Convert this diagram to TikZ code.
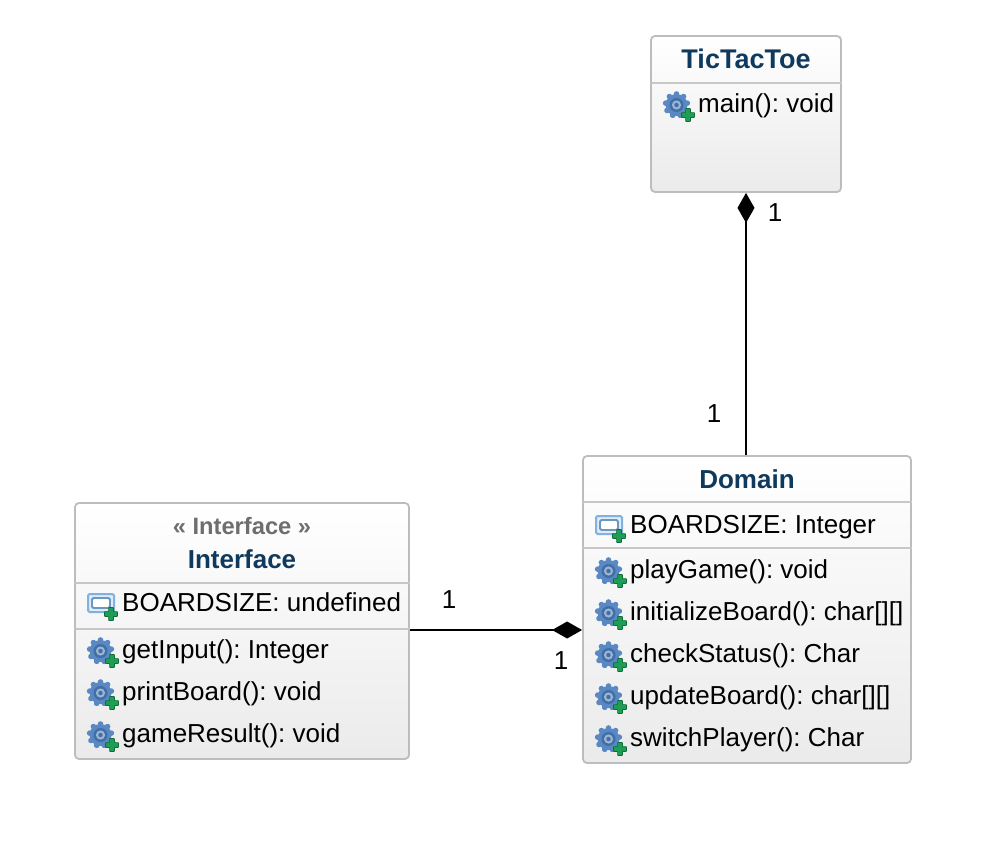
\documentclass[tikz,border=0pt]{standalone}
\usepackage{fontspec}
\setmainfont{Liberation Sans}
\frenchspacing
\usetikzlibrary{arrows.meta}
\definecolor{titleblue}{HTML}{0F3A5E}
\definecolor{edgegray}{HTML}{BDBDBD}
\definecolor{stereo}{HTML}{6E6E6E}
\definecolor{gearblue}{HTML}{5A88C2}
\definecolor{geardark}{HTML}{3F6FA8}
\definecolor{gearmid}{HTML}{9DB4CF}
\definecolor{plusgreen}{HTML}{1E9E55}
\definecolor{plusdark}{HTML}{0F6B38}
\definecolor{attrblue}{HTML}{7FB2E0}
\tikzset{
  x=1pt,y=-1pt,
  classbox/.style={draw=edgegray,line width=1.8pt,rounded corners=4pt,top color=white,bottom color=black!8,inner sep=0pt},
  divider/.style={draw=edgegray!85,line width=1.4pt},
  member/.style={anchor=base west,inner sep=0pt,font=\fontsize{26}{30}\selectfont,text=black},
  classtitle/.style={anchor=base,inner sep=0pt,font=\fontsize{26}{30}\selectfont\bfseries,text=titleblue},
  stereotype/.style={anchor=base,inner sep=0pt,font=\fontsize{23.7}{27}\selectfont\bfseries,text=stereo},
  mult/.style={anchor=base,inner sep=0pt,font=\fontsize{26}{30}\selectfont,text=black},
  assoc/.style={draw=black,line width=2.4pt},
  whole/.style={{Diamond[length=30pt,width=17pt,inset=15pt]}-},
  plusmark/.pic={
    \draw[plusdark,line width=0.7pt,fill=plusgreen,rounded corners=0.6pt]
      (-2.4,-6.5)--(2.4,-6.5)--(2.4,-2.4)--(6.5,-2.4)--(6.5,2.4)--(2.4,2.4)--(2.4,6.5)--(-2.4,6.5)--(-2.4,2.4)--(-6.5,2.4)--(-6.5,-2.4)--(-2.4,-2.4)--cycle;
  },
  opicon/.pic={
    \foreach \a in {0,40,...,320}{
      \fill[gearblue,rotate=\a] (0,-11) circle (2.8);
    }
    \fill[gearblue] (0,0) circle (11);
    \fill[geardark] (0,0) circle (7);
    \fill[gearmid] (0,0) circle (4.6);
    \fill[geardark] (0,0) circle (2.2);
    \path (11.5,10) pic {plusmark};
  },
  attricon/.pic={
    \draw[attrblue,line width=2pt,fill=attrblue!25,rounded corners=1.5pt] (-13,-9) rectangle (13,9);
    \draw[attrblue!85!black,line width=1.8pt,fill=white,rounded corners=1.5pt] (-9,-5) rectangle (9,5);
    \path (10,11) pic {plusmark};
  }
}
\begin{document}
\begin{tikzpicture}
\useasboundingbox (0,0) rectangle (990,846);

% class boxes
\node[classbox,minimum width=190pt,minimum height=156pt] (tic) at (746,114) {};
\node[classbox,minimum width=328pt,minimum height=307pt] (dom) at (747,609.5) {};
\node[classbox,minimum width=334pt,minimum height=256pt] (ifc) at (242,631) {};

% compartments
\coordinate (ticA) at (651,83);
\draw[divider] (ticA) -- (ticA -| tic.east);
\coordinate (domA) at (583,502);
\coordinate (domB) at (583,548);
\draw[divider] (domA) -- (domA -| dom.east);
\draw[divider] (domB) -- (domB -| dom.east);
\coordinate (ifcA) at (75,583);
\coordinate (ifcB) at (75,629);
\draw[divider] (ifcA) -- (ifcA -| ifc.east);
\draw[divider] (ifcB) -- (ifcB -| ifc.east);

% titles
\node[classtitle,font=\fontsize{27}{30}\selectfont\bfseries] (ticT) at (746,68) {TicTacToe};
\node[classtitle] (domT) at (747,488) {Domain};
\node[stereotype] (ifcS) at (242,534) {« Interface »};
\node[classtitle] (ifcT) at (242,568) {Interface};

% TicTacToe members
\path (676.5,105) pic {opicon};
\node[member] (t1) at (698,112) {main(): void};

% Domain members
\path (609,525) pic {attricon};
\node[member] (d0) at (630,533) {BOARDSIZE: Integer};
\path (608.5,571) pic {opicon};
\node[member] (d1) at (630,578) {playGame(): void};
\path (608.5,613) pic {opicon};
\node[member] (d2) at (630,620) {initializeBoard(): char[][]};
\path (608.5,655) pic {opicon};
\node[member] (d3) at (630,662) {checkStatus(): Char};
\path (608.5,697) pic {opicon};
\node[member] (d4) at (630,704) {updateBoard(): char[][]};
\path (608.5,739) pic {opicon};
\node[member] (d5) at (630,746) {switchPlayer(): Char};

% Interface members
\path (101,603) pic {attricon};
\node[member] (i0) at (122,611) {BOARDSIZE: undefined};
\path (100.5,651) pic {opicon};
\node[member] (i1) at (122,658) {getInput(): Integer};
\path (100.5,693) pic {opicon};
\node[member] (i2) at (122,700) {printBoard(): void};
\path (100.5,735) pic {opicon};
\node[member] (i3) at (122,742) {gameResult(): void};

% connectors
\coordinate (ifcPort) at ([yshift=1pt]ifc.east);
\draw[assoc,whole] (tic.south) -- (tic.south |- dom.north);
\draw[assoc,whole] (dom.west |- ifcPort) -- (ifcPort);

% multiplicities
\node[mult] (m1) at (775,221) {1};
\node[mult] (m2) at (714,422) {1};
\node[mult] (m3) at (449,608) {1};
\node[mult] (m4) at (561,669) {1};
\end{tikzpicture}
\end{document}
